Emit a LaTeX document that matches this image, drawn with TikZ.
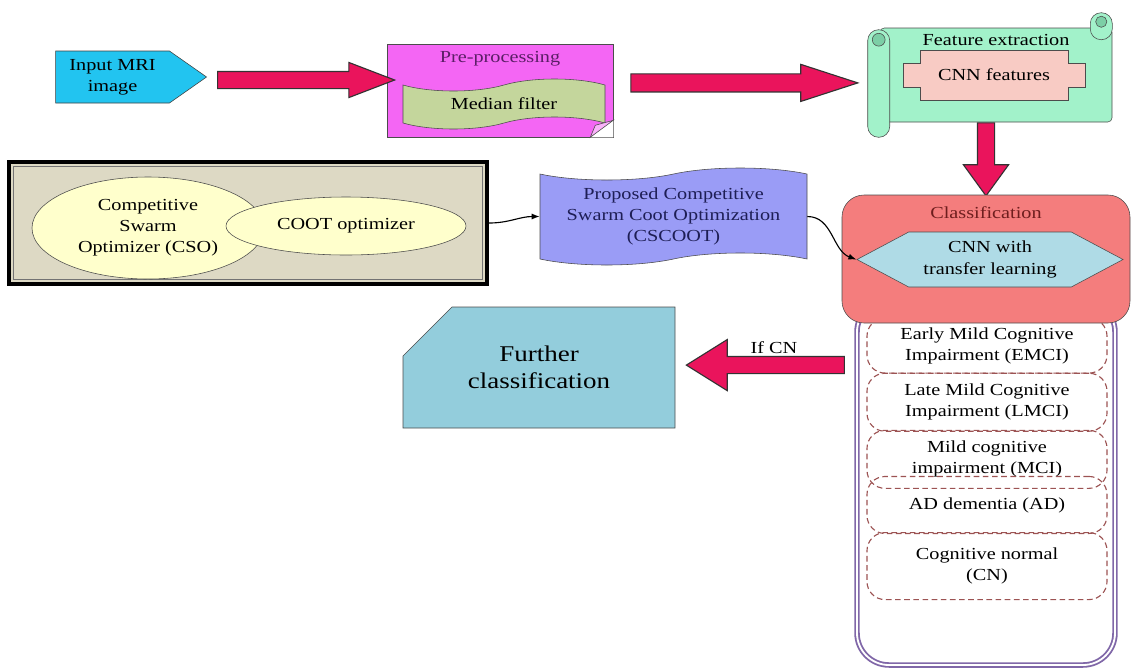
\documentclass[tikz,border=0pt]{standalone}
\usepackage{fontspec}
\setmainfont{Liberation Serif}[FakeStretch=1.2]
\usetikzlibrary{shapes.geometric, shapes.symbols, shapes.arrows, shapes.misc, arrows.meta, positioning, calc}
\definecolor{mricyan}{HTML}{22C4F0}
\definecolor{premagenta}{HTML}{F466F4}
\definecolor{medgreen}{HTML}{C4D69C}
\definecolor{scrollmint}{HTML}{A2F2CA}
\definecolor{rollmint}{HTML}{7CCFA6}
\definecolor{plaquepink}{HTML}{F8CBC4}
\definecolor{optgrey}{HTML}{DDD9C4}
\definecolor{ovalyellow}{HTML}{FFFFCC}
\definecolor{cscootblue}{HTML}{9A9CF6}
\definecolor{classred}{HTML}{F47D7D}
\definecolor{hexblue}{HTML}{AFDBE6}
\definecolor{furtherblue}{HTML}{93CDDC}
\definecolor{tubepurple}{HTML}{8067A8}
\definecolor{dashbrown}{HTML}{9C5353}
\definecolor{arrowred}{HTML}{EA145C}
\definecolor{pretext}{HTML}{5B1E66}
\definecolor{classtext}{HTML}{6E1E1E}
\definecolor{cscoottext}{HTML}{1E1E55}

\begin{document}
\begin{tikzpicture}[
  font=\fontsize{12}{15}\selectfont,
  inbox/.style={signal, signal to=east, signal pointer angle=70, draw=black!75, fill=mricyan, minimum width=3.775cm, minimum height=1.3cm, align=center, inner sep=0pt},
  procbox/.style={rectangle, draw=black!70, fill=premagenta, minimum width=5.65cm, minimum height=2.325cm},
  wavebox/.style={tape, tape bend top=in and out, tape bend bottom=in and out, draw=black!70, align=center},
  title/.style={inner sep=1pt},
  scrollbody/.style={rectangle, rounded corners=3pt, draw=black!70, fill=scrollmint, minimum width=5.8cm, minimum height=2.35cm},
  scrollroll/.style={draw=black!70, fill=scrollmint, rounded corners=0.27cm},
  rollhole/.style={draw=black!70, fill=rollmint},
  plaque/.style={draw=black!70, fill=plaquepink},
  optframe/.style={rectangle, draw=black, line width=3pt, fill=optgrey, minimum width=11.95cm, minimum height=3.05cm},
  oval/.style={ellipse, draw=black!70, fill=ovalyellow, align=center, inner sep=0pt},
  classbox/.style={rectangle, rounded corners=0.55cm, draw=black!70, fill=classred, minimum width=7.2cm, minimum height=3.2cm},
  hexbox/.style={signal, signal to=west and east, signal pointer angle=56, draw=black!70, fill=hexblue, minimum width=6.65cm, minimum height=1.375cm, align=center, inner sep=0pt},
  tube/.style={rectangle, rounded corners=0.8cm, draw=tubepurple, line width=1.3pt, double=white, double distance=1.3pt, minimum width=6.45cm, minimum height=9.125cm},
  classitem/.style={rectangle, rounded corners=0.45cm, draw=dashbrown, dash pattern=on 4pt off 2.5pt, thick, minimum width=6cm, align=center, inner sep=0pt},
  furtherbox/.style={chamfered rectangle, chamfered rectangle corners=north west, chamfered rectangle xsep=1.375cm, chamfered rectangle ysep=0.575cm, draw=black!70, fill=furtherblue, minimum width=6.8cm, minimum height=3.025cm, align=center, font=\fontsize{16}{19}\selectfont},
  fatarrow/.style={single arrow, draw=black!80, fill=arrowred, thick, inner xsep=0pt, inner ysep=0.2cm, minimum width=0pt, single arrow head extend=0.225cm},
  link/.style={-{Latex[length=2mm]}, thick, draw=black}
]
  \useasboundingbox (0,0) rectangle (28.275,-16.7);

  \node[inbox] (mri) at (2.8125,-1.925) {Input MRI\\image};
  \node[procbox] (pre) at (12.5,-2.2625) {};
  \node[title, text=pretext, below=0.15cm of pre.north] (pretitle) {Pre-processing};
  \node[wavebox, fill=medgreen, minimum width=5.05cm, minimum height=1.25cm, tape bend height=0.3cm] (median) at (12.6,-2.6) {Median filter};
  \fill[white] (pre.south east) -- ++(-0.575,0) -- ++(0.575,0.425) -- cycle;
  \draw[draw=black!70, fill=premagenta!50] ($(pre.south east)+(-0.575,0)$) -- ++(0.575,0.425) -- ($(pre.south east)+(-0.45,0.3)$) -- cycle;

  \node[fatarrow, minimum height=4.425cm, single arrow tip angle=42, anchor=tail] (arr1) at ([xshift=0.25cm,yshift=-0.075cm]mri.east) {};
  \node[fatarrow, minimum height=5.675cm, inner ysep=0.2125cm, single arrow head extend=0.2375cm, single arrow tip angle=36, anchor=tail] (arr2) at ([xshift=0.425cm,yshift=0.19cm]pre.east) {};

  \node[scrollbody] (feat) at (24.9,-1.875) {};
  \draw[scrollroll] ($(feat.north west)+(-0.3,-0.05)$) rectangle ($(feat.south west)+(0.25,-0.375)$);
  \draw[rollhole] ($(feat.north west)+(-0.025,-0.3)$) circle (0.16);
  \draw[scrollroll] ($(feat.north east)+(-0.55,0.375)$) rectangle ($(feat.north east)+(0,-0.3)$);
  \draw[rollhole] ($(feat.north east)+(-0.275,0.15)$) circle (0.14);
  \node[title, below=0.12cm of feat.north] (feattitle) {Feature extraction};
  \coordinate (cnnc) at ([xshift=-0.05cm]feat.center);
  \draw[plaque] ($(cnnc)+(-1.85,0.625)$) -- ++(3.7,0) -- ++(0,-0.325) -- ++(0.425,0) -- ++(0,-0.6) -- ++(-0.425,0) -- ++(0,-0.325) -- ++(-3.7,0) -- ++(0,0.325) -- ++(-0.425,0) -- ++(0,0.6) -- ++(0.425,0) -- cycle;
  \node (cnnf) at (cnnc) {CNN features};

  \node[fatarrow, minimum height=1.825cm, single arrow head extend=0.35cm, single arrow tip angle=72, rotate=-90, anchor=tail] (arr3) at ([xshift=-0.25cm]feat.south) {};

  \node[tube] (tube) at (24.65,-12.0625) {};
  \node[classitem, minimum height=1.375cm] (emci) at (24.675,-8.64) {Early Mild Cognitive\\Impairment (EMCI)};
  \node[classitem, minimum height=1.45cm, below=-0.025cm of emci] (lmci) {Late Mild Cognitive\\Impairment (LMCI)};
  \node[classitem, minimum height=1.45cm, below=-0.05cm of lmci] (mci) {Mild cognitive\\impairment (MCI)};
  \node[classitem, minimum height=1.425cm, below=-0.325cm of mci] (ad) {AD dementia (AD)};
  \node[classitem, minimum height=1.675cm, below=-0.05cm of ad] (cn) {Cognitive normal\\(CN)};

  \node[classbox] (classif) at (24.65,-6.475) {};
  \node[title, text=classtext, below=0.25cm of classif.north] (classtitle) {Classification};
  \node[hexbox] (hex) at (24.75,-6.4875) {CNN with\\transfer learning};

  \node[furtherbox] (further) at (13.475,-9.1875) {Further\\classification};
  \node[fatarrow, minimum height=3.95cm, single arrow head extend=0.425cm, single arrow tip angle=64, rotate=180, anchor=tip] (arr4) at ([xshift=0.25cm,yshift=0.06cm]further.east) {};
  \node[title, above left=0.25cm and 1.15cm of arr4.tail] (ifcn) {If CN};

  \node[optframe] (opt) at (6.2,-5.575) {};
  \draw[black!55, line width=0.8pt] ($(opt.north west)+(0.17,-0.17)$) rectangle ($(opt.south east)+(-0.17,0.17)$);
  \node[oval, minimum width=5.8cm, minimum height=2.55cm] (cso) at (3.7,-5.7) {Competitive\\Swarm\\Optimizer (CSO)};
  \node[oval, minimum width=6cm, minimum height=1.45cm] (coot) at (8.65,-5.65) {COOT optimizer};

  \node[wavebox, fill=cscootblue, text=cscoottext, minimum width=6.675cm, minimum height=2.425cm, tape bend height=0.3cm] (cscoot) at (16.8375,-5.4125) {Proposed Competitive\\Swarm Coot Optimization\\(CSCOOT)};

  \draw[link] (opt.east) to[out=0, in=180] (cscoot.west);
  \draw[link] (cscoot.east) to[out=0, in=160] (hex.west);
\end{tikzpicture}
\end{document}
